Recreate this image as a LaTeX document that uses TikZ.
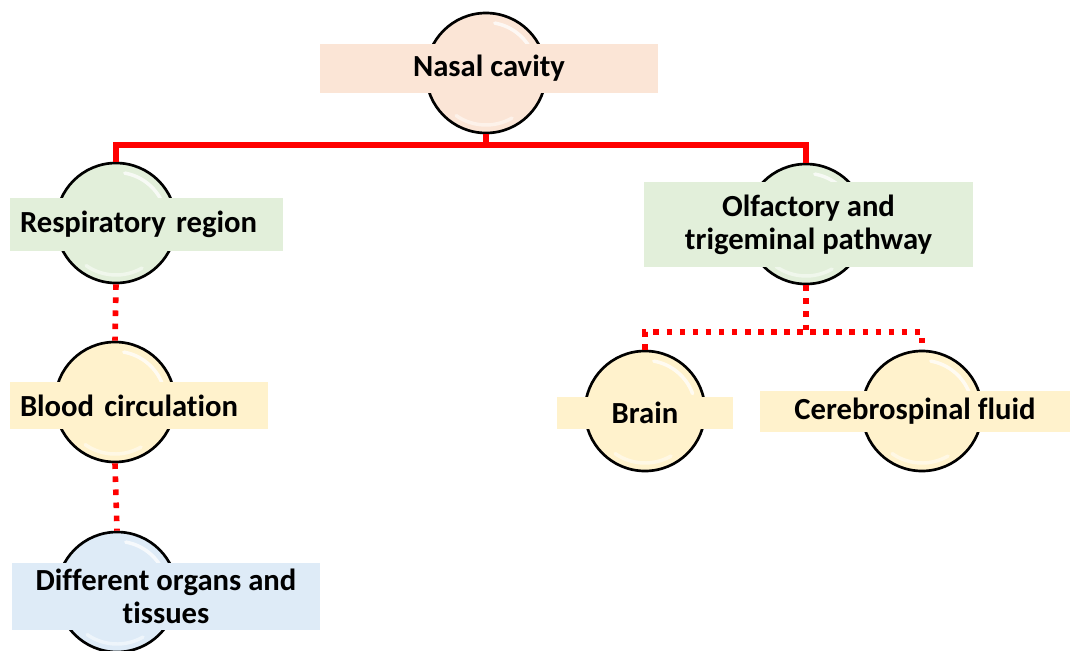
\documentclass[tikz,border=0pt]{standalone}
\usepackage{fontspec}
\setmainfont{Carlito}[Ligatures=NoCommon]
\usetikzlibrary{calc}
\definecolor{cpeach}{HTML}{FBE5D6}
\definecolor{cgreen}{HTML}{E2EFDA}
\definecolor{cyellow}{HTML}{FFF2CC}
\definecolor{cblue}{HTML}{DEEBF7}
\definecolor{cred}{HTML}{FF0000}
\tikzset{
  bubble/.style={circle, draw=black, line width=2pt, minimum size=90pt, inner sep=0pt},
  hl/.style={white, line width=2.6pt, opacity=0.75, line cap=round},
  labelbox/.style={rectangle, inner sep=0pt, font=\fontsize{23}{24.75}\selectfont\bfseries, align=center},
  solidlink/.style={cred, line width=4.5pt, line join=miter},
  dotlink/.style={cred, line width=4.2pt, dash pattern=on 4.2pt off 5.6pt}
}
\newcommand\bub[3]{%
  \node[bubble, fill=#3] (#1) at (#2) {};
  \draw[hl] (#1.center) ++(20:38pt) arc[start angle=20, end angle=80, radius=38pt];
  \draw[hl, opacity=0.5] (#1.center) ++(-125:39pt) arc[start angle=-125, end angle=-60, radius=39pt];
}
\begin{document}
\begin{tikzpicture}[x=0.75pt, y=-0.75pt]
\useasboundingbox (0,0) rectangle (1070,650);
% circles
\bub{nasalC}{486,73}{cpeach}
\bub{respC}{116,223}{cgreen}
\bub{bloodC}{115,402}{cyellow}
\bub{orgC}{117,592}{cblue}
\bub{olfC}{806,224}{cgreen}
\bub{brainC}{645,411}{cyellow}
\bub{csfC}{922,411}{cyellow}
% connectors
\coordinate (jn) at (486,145);
\coordinate (jd) at (806,332);
\draw[solidlink] (nasalC.south) -- (jn);
\draw[solidlink] (respC.north) |- (jn) -| (olfC.north);
\draw[dotlink] (respC.south) -- (bloodC.north);
\draw[dotlink] (bloodC.south) -- (orgC.north);
\draw[dotlink] (olfC.south) -- (jd);
\draw[dotlink] (brainC.north) |- (jd) -| (csfC.north);
% label boxes
\node[labelbox, fill=cpeach, minimum width=253.5pt, minimum height=36.75pt] (nasal) at (489,68.5) {Nasal cavity};
\node[labelbox, fill=cgreen, minimum width=204.75pt, minimum height=39.75pt, text width=189.75pt, align=left] (resp) at (146.5,224.5) {Respiratory region};
\node[labelbox, fill=cyellow, minimum width=193.5pt, minimum height=35.25pt, text width=178.5pt, align=left] (blood) at (139,405.5) {Blood circulation};
\node[labelbox, fill=cblue, minimum width=231pt, minimum height=50.25pt] (org) at (166,596.5) {Different organs and\\tissues};
\node[labelbox, fill=cgreen, minimum width=246.75pt, minimum height=63.75pt] (olf) at (808.5,224.5) {Olfactory and\\trigeminal pathway};
\node[labelbox, fill=cyellow, minimum width=132pt, minimum height=24pt] (brain) at (645,413) {Brain};
\node[labelbox, fill=cyellow, minimum width=232.5pt, minimum height=30.75pt] (csf) at (915,411.5) {Cerebrospinal fluid};
\end{tikzpicture}
\end{document}
